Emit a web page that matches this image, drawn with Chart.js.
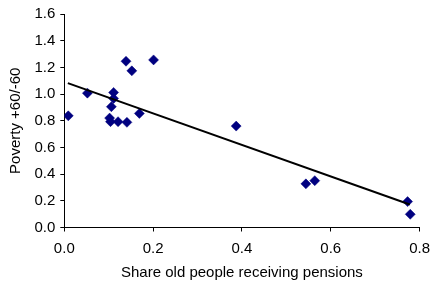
<!DOCTYPE html>
<html><head><meta charset="utf-8">
<script src="https://cdn.jsdelivr.net/npm/chart.js@4"></script>
<style>html,body{margin:0;padding:0;background:#fff}#wrap{width:438px;height:285px}</style>
</head><body><div id="wrap"><canvas id="c"></canvas></div>
<script>
const pensionShare = [0.009,0.052,0.111,0.111,0.106,0.139,0.152,0.201,0.102,0.104,0.121,0.141,0.169,0.387,0.544,0.564,0.773,0.779];
const povertyRatio = [0.837,1.007,1.012,0.967,0.905,1.246,1.174,1.256,0.820,0.793,0.793,0.788,0.855,0.760,0.327,0.351,0.194,0.099];
const trendX = [0.008,0.778];
const trendY = [1.082,0.172];
const xTicks = [0,0.2,0.4,0.6,0.8];
const yTicks = [0,0.2,0.4,0.6,0.8,1.0,1.2,1.4,1.6];
const xTitle = 'Share old people receiving pensions';
const yTitle = 'Poverty +60/-60';

const font = {family:'"Liberation Sans", Arial, sans-serif', size:15};
new Chart(document.getElementById('c'), {
  type:'scatter',
  data:{datasets:[
    {type:'line', data:trendX.map((x,i)=>({x, y:trendY[i]})), borderColor:'#000', borderWidth:2, pointRadius:0, fill:false, order:0},
    {data:pensionShare.map((x,i)=>({x, y:povertyRatio[i]})), pointStyle:'rectRot', pointRadius:5, backgroundColor:'#000080', borderColor:'#000080', borderWidth:0.5, order:1}
  ]},
  options:{
    responsive:true, maintainAspectRatio:false, animation:false,
    layout:{padding:{left:0,right:13.7,top:13.3,bottom:0}},
    plugins:{legend:{display:false}, tooltip:{enabled:false}},
    scales:{
      x:{type:'linear', min:0, max:0.8,
        afterBuildTicks:s=>{s.ticks=xTicks.map(v=>({value:v}));},
        afterFit:s=>{s.height=57.5;},
        ticks:{color:'#000', font, padding:8, callback:v=>Number(v).toFixed(1), maxRotation:0},
        grid:{drawOnChartArea:false, drawTicks:true, tickLength:4, color:'#000'},
        border:{display:true, color:'#000', width:1},
        title:{display:true, text:xTitle, color:'#000', font, padding:{top:0,bottom:3}}
      },
      y:{type:'linear', min:0, max:1.6,
        afterBuildTicks:s=>{s.ticks=yTicks.map(v=>({value:v}));},
        afterFit:s=>{s.width=64.3;},
        ticks:{color:'#000', font, padding:5, callback:v=>Number(v).toFixed(1)},
        grid:{drawOnChartArea:false, drawTicks:true, tickLength:4, color:'#000'},
        border:{display:true, color:'#000', width:1},
        title:{display:true, text:yTitle, color:'#000', font, padding:{top:7,bottom:0}}
      }
    }
  }
});
</script></body></html>
